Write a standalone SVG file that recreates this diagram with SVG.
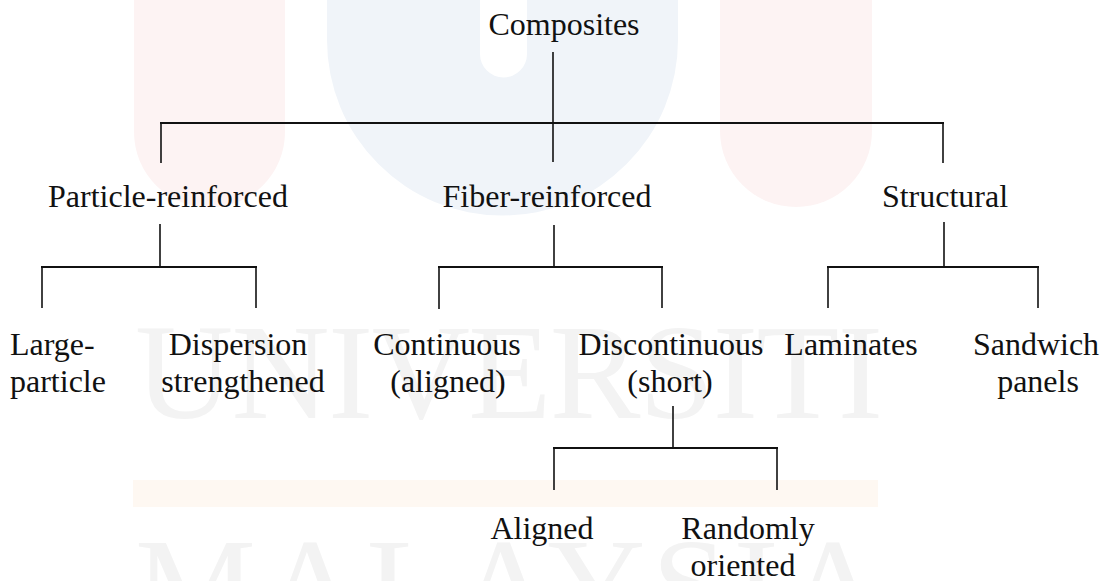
<svg xmlns="http://www.w3.org/2000/svg" width="1109" height="581" viewBox="0 0 1109 581">
  <style>
    .lbl { font-family: "Liberation Serif", "Times New Roman", serif; font-size: 32px; fill: #111; }
    .mid { text-anchor: middle; }
    .wm { font-family: "Liberation Serif", "Times New Roman", serif; font-size: 136px; fill: #f3f3f3; }
    .v { stroke: #111; stroke-width: 1.6; fill: none; }
    .h { stroke: #111; stroke-width: 2; fill: none; }
  </style>
  <rect width="1109" height="581" fill="#ffffff"/>
  <!-- watermark background -->
  <g id="watermark">
    <path d="M134,0 L285,0 L285,132 A75.5,75.5 0 0 1 134,132 Z" fill="#fdf3f3"/>
    <path d="M720,0 L872,0 L872,131 A76,76 0 0 1 720,131 Z" fill="#fdf3f3"/>
    <path d="M327,0 L480,0 L480,54 A23.5,23.5 0 0 0 527,54 L527,0 L678,0 L678,40 A175.5,175.5 0 0 1 327,40 Z" fill="#f0f4f9"/>
    <rect x="133" y="480" width="745" height="27" fill="#fef8f2"/>
    <text class="wm" x="135" y="418" textLength="748" lengthAdjust="spacing">UNIVERSITI</text>
    <text class="wm" x="135" y="632" textLength="748" lengthAdjust="spacing">MALAYSIA</text>
  </g>
  <g id="connectors">
    <line class="v" x1="553" y1="52" x2="553" y2="162"/>
    <line class="h" x1="160" y1="123" x2="944" y2="123"/>
    <line class="v" x1="161" y1="123" x2="161" y2="163"/>
    <line class="v" x1="943" y1="123" x2="943" y2="163"/>
    <line class="v" x1="160" y1="224" x2="160" y2="267"/>
    <line class="h" x1="41" y1="267" x2="257" y2="267"/>
    <line class="v" x1="42" y1="267" x2="42" y2="308"/>
    <line class="v" x1="256" y1="267" x2="256" y2="308"/>
    <line class="v" x1="554" y1="225" x2="554" y2="267"/>
    <line class="h" x1="438" y1="267" x2="663" y2="267"/>
    <line class="v" x1="439" y1="267" x2="439" y2="309"/>
    <line class="v" x1="662" y1="267" x2="662" y2="308"/>
    <line class="v" x1="944" y1="222" x2="944" y2="267"/>
    <line class="h" x1="827" y1="267" x2="1039" y2="267"/>
    <line class="v" x1="828" y1="267" x2="828" y2="308"/>
    <line class="v" x1="1038" y1="267" x2="1038" y2="308"/>
    <line class="v" x1="673" y1="406" x2="673" y2="448"/>
    <line class="h" x1="553" y1="448" x2="778" y2="448"/>
    <line class="v" x1="554" y1="448" x2="554" y2="490"/>
    <line class="v" x1="777" y1="448" x2="777" y2="490"/>
  </g>
  <g id="composites"><text class="lbl mid" x="564" y="35">Composites</text></g>
  <g id="particle-reinforced"><text class="lbl mid" x="168" y="207">Particle-reinforced</text></g>
  <g id="fiber-reinforced"><text class="lbl mid" x="547" y="207">Fiber-reinforced</text></g>
  <g id="structural"><text class="lbl mid" x="945" y="207">Structural</text></g>
  <g id="large-particle">
    <text class="lbl" x="10" y="355">Large-</text>
    <text class="lbl" x="10" y="392">particle</text>
  </g>
  <g id="dispersion-strengthened">
    <text class="lbl mid" x="238" y="355">Dispersion</text>
    <text class="lbl mid" x="243" y="392">strengthened</text>
  </g>
  <g id="continuous">
    <text class="lbl mid" x="447" y="355">Continuous</text>
    <text class="lbl mid" x="448" y="392">(aligned)</text>
  </g>
  <g id="discontinuous">
    <text class="lbl mid" x="671" y="355">Discontinuous</text>
    <text class="lbl mid" x="670" y="392">(short)</text>
  </g>
  <g id="laminates"><text class="lbl mid" x="851" y="355">Laminates</text></g>
  <g id="sandwich-panels">
    <text class="lbl mid" x="1036" y="355">Sandwich</text>
    <text class="lbl mid" x="1038" y="392">panels</text>
  </g>
  <g id="aligned"><text class="lbl mid" x="542" y="539">Aligned</text></g>
  <g id="randomly-oriented">
    <text class="lbl mid" x="748" y="539">Randomly</text>
    <text class="lbl mid" x="743" y="576">oriented</text>
  </g>
</svg>
